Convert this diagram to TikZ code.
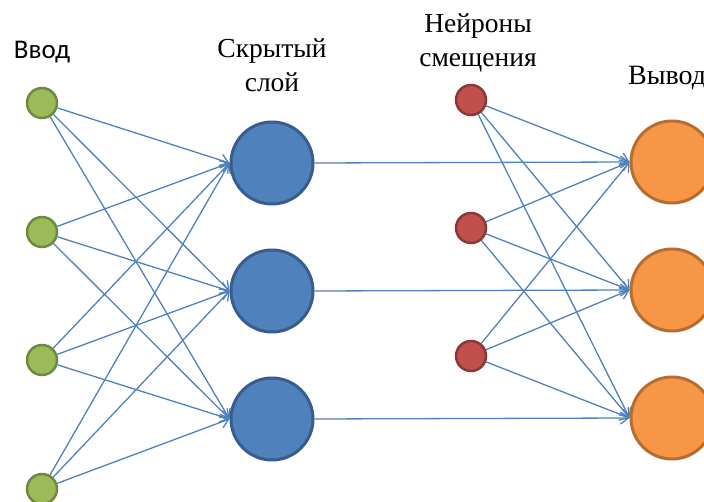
\documentclass[tikz,border=0pt]{standalone}
\usepackage{fontspec}
\setmainfont{Liberation Serif}
\newfontfamily\serfont{Liberation Serif}
\newfontfamily\calfont{Carlito}
\usetikzlibrary{arrows.meta}
\definecolor{lnblue}{HTML}{4F81BD}
\definecolor{gfill}{HTML}{9BBB59}
\definecolor{gdraw}{HTML}{71893F}
\definecolor{bfill}{HTML}{4F81BD}
\definecolor{bdraw}{HTML}{385D8A}
\definecolor{rfill}{HTML}{C0504D}
\definecolor{rdraw}{HTML}{8C3836}
\definecolor{ofill}{HTML}{F79646}
\definecolor{odraw}{HTML}{B66D31}
\tikzset{
  innode/.style={circle,fill=gfill,draw=gdraw,line width=2.5pt,minimum size=30pt,inner sep=0pt},
  hidnode/.style={circle,fill=bfill,draw=bdraw,line width=3pt,minimum size=82pt,inner sep=0pt},
  biasnode/.style={circle,fill=rfill,draw=rdraw,line width=2.5pt,minimum size=30pt,inner sep=0pt},
  outnode/.style={circle,fill=ofill,draw=odraw,line width=3pt,minimum size=82pt,inner sep=0pt},
  conn/.style={draw=lnblue,line width=1.3pt,-{Straight Barb[length=8pt,width=12pt,line width=1.3pt]}},
  lbl/.style={inner sep=0pt,align=center,font=\serfont\fontsize{27.5}{34}\selectfont},
}
\begin{document}
\begin{tikzpicture}[x=1pt,y=-1pt]
\useasboundingbox (0,0) rectangle (704,502);
% node positions
\coordinate (ci1) at (42,103);
\coordinate (ci2) at (42,232);
\coordinate (ci3) at (42,360);
\coordinate (ci4) at (42,489);
\coordinate (ch1) at (272,163);
\coordinate (ch2) at (272,291);
\coordinate (ch3) at (272,419);
\coordinate (cb1) at (471,100);
\coordinate (cb2) at (471,228);
\coordinate (cb3) at (471,356);
\coordinate (co1) at (672,162);
\coordinate (co2) at (672,290);
\coordinate (co3) at (672,418);
% invisible shape nodes for connector anchoring
\foreach \k in {1,2,3,4}{\node[innode,draw=none,fill=none] (i\k) at (ci\k) {};}
\foreach \k in {1,2,3}{
  \node[hidnode,draw=none,fill=none] (h\k) at (ch\k) {};
  \node[biasnode,draw=none,fill=none] (b\k) at (cb\k) {};
  \node[outnode,draw=none,fill=none] (o\k) at (co\k) {};
}
% connectors
\foreach \i in {1,2,3,4}{
  \foreach \h in {1,2,3}{
    \draw[conn] (i\i) -- (h\h.west);
  }
}
\foreach \h in {1,2,3}{
  \draw[conn] (h\h.east) -- (o\h.west);
}
\foreach \b in {1,2,3}{
  \foreach \o in {1,2,3}{
    \draw[conn] (b\b) -- (o\o.west);
  }
}
% visible nodes on top
\foreach \k in {1,2,3,4}{\node[innode] at (ci\k) {};}
\foreach \k in {1,2,3}{
  \node[hidnode] at (ch\k) {};
  \node[biasnode] at (cb\k) {};
  \node[outnode] at (co\k) {};
}
% labels
\node[inner sep=0pt,anchor=base,font=\calfont\fontsize{27}{34}\selectfont] (l1) at (42,59) {Ввод};
\node[lbl,anchor=base] (l2) at (272,92) {Скрытый\\слой};
\node[lbl,anchor=base] (l3) at (478,67) {Нейроны\\смещения};
\node[inner sep=0pt,anchor=base west,font=\serfont\fontsize{28}{34}\selectfont] (l4) at (628,85) {Вывод};
\end{tikzpicture}
\end{document}
